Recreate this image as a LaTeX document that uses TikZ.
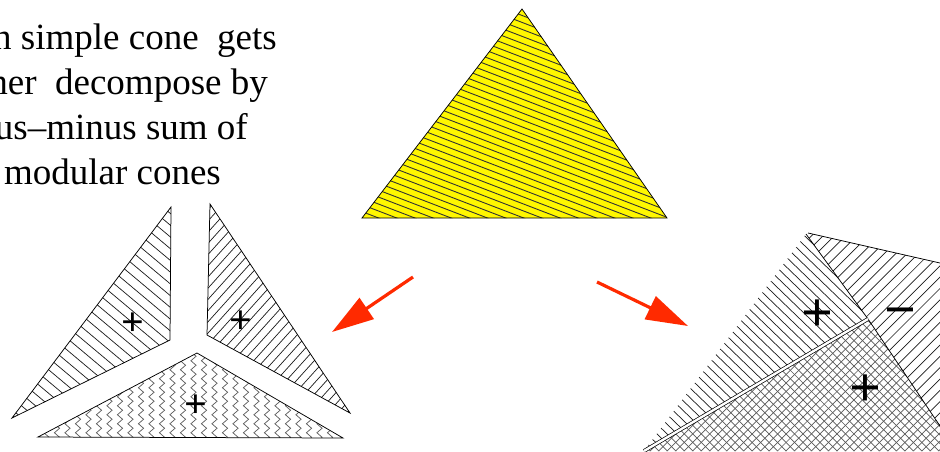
\documentclass[tikz,border=0pt]{standalone}
\usepackage{fontspec}
\setmainfont{Liberation Serif}
\usetikzlibrary{arrows.meta,decorations.pathmorphing}
\definecolor{conered}{HTML}{FF2A00}
\definecolor{coneyellow}{HTML}{FFF700}
\newcommand{\hatchin}[5]{%
  \begin{scope}
    \clip #1;
    \begin{scope}[shift={#2},rotate=#3]
      \draw[#5] \foreach \k in {0,...,130} {(-330,{-330+\k*#4}) -- (330,{-330+\k*#4})};
    \end{scope}
  \end{scope}}
\begin{document}
\begin{tikzpicture}[x=1pt,y=-1pt,
  txt/.style={font=\fontsize{37}{44}\selectfont,inner sep=0pt,anchor=base east},
  edge/.style={line width=0.75pt,black},
  hatchline/.style={line width=0.7pt,black!90},
  yhatch/.style={line width=0.9pt,black!80},
  greyline/.style={line width=0.7pt,black!65},
  zig/.style={greyline,decorate,decoration={zigzag,amplitude=2.6pt,segment length=9pt}},
  sgnsmall/.style={font=\fontsize{40}{40}\selectfont\bfseries,inner sep=0pt,anchor=base},
  sgnbig/.style={font=\fontsize{56}{56}\selectfont\bfseries,inner sep=0pt,anchor=base},
  redarrow/.style={conered,line width=3.2pt,-{Triangle[length=42pt,width=25pt]}}]
\useasboundingbox (0,0) rectangle (940,451);

% ---- text
\node[txt] (t1) at (277,49) {n simple cone~~gets};
\node[txt] (t2) at (268,94) {her~~decompose by};
\node[txt] (t3) at (248,139) {us\char"2013 minus sum of};
\node[txt] (t4) at (221,184) {modular cones};

% ---- top yellow cone
\coordinate (ya) at (522,9);
\coordinate (yb) at (362,218);
\coordinate (yc) at (667,218);
\fill[coneyellow] (ya) -- (yb) -- (yc) -- cycle;
\hatchin{(ya) -- (yb) -- (yc) -- cycle}{(514,150)}{-21}{6.5}{yhatch}
\draw[edge] (ya) -- (yb) -- (yc) -- cycle;

% ---- left group: three cones
\coordinate (a1) at (171,207);
\coordinate (a2) at (170,340);
\coordinate (a3) at (12,418);
\coordinate (b1) at (210,204);
\coordinate (b2) at (207,335);
\coordinate (b3) at (350,413);
\coordinate (c1) at (197,353);
\coordinate (c2) at (38,437);
\coordinate (c3) at (343,438);
\hatchin{(a1) -- (a2) -- (a3) -- cycle}{(120,320)}{-40}{9}{hatchline}
\hatchin{(b1) -- (b2) -- (b3) -- cycle}{(250,320)}{48}{7.5}{hatchline}
\begin{scope}
  \clip (c1) -- (c2) -- (c3) -- cycle;
  \foreach \k in {0,...,30} \draw[zig] ({36+\k*10.5},345) -- ({36+\k*10.5},450);
\end{scope}
\draw[edge] (a1) -- (a2) -- (a3) -- cycle;
\draw[edge] (b1) -- (b2) -- (b3) -- cycle;
\draw[edge] (c1) -- (c2) -- (c3) -- cycle;
\node[sgnsmall] (pa) at (133,335) {+};
\node[sgnsmall] (pb) at (241,333) {+};
\node[sgnsmall] (pc) at (196,417) {+};

% ---- right group: signed decomposition
\coordinate (rt) at (806,234);
\coordinate (rtop) at (808,233);
\coordinate (rtr) at (940,263);
\coordinate (rj) at (868,319);
\coordinate (rd) at (940,426);
\coordinate (rl) at (644,451);
\coordinate (rbr) at (940,451);
\hatchin{(rt) -- (rj) -- (rl) -- cycle}{(780,340)}{-44}{7}{hatchline}
\hatchin{(rtop) -- (rtr) -- (rd) -- (rj) -- (rt) -- cycle}{(890,330)}{45}{8}{hatchline}
\hatchin{(rl) -- (rj) -- (rd) -- (rbr) -- cycle}{(820,400)}{45}{6}{greyline}
\hatchin{(rl) -- (rj) -- (rd) -- (rbr) -- cycle}{(820,400)}{-45}{6}{greyline}
\draw[edge] (rtop) -- (rtr);
\draw[edge] (rt) -- (rj) -- (rd);
\draw[black,line width=0.7pt,double=white,double distance=2.4pt] (rl) -- (rj);
\node[sgnbig] (pr1) at (817,331) {+};
\node[sgnbig] (mr) at (900,328) {\char"2212};
\node[sgnbig] (pr2) at (865,406) {+};

% ---- arrows
\coordinate (la0) at (413,277);
\coordinate (la1) at (332,332);
\coordinate (ra0) at (597,282);
\coordinate (ra1) at (688,326);
\draw[redarrow] (la0) -- (la1);
\draw[redarrow] (ra0) -- (ra1);
\end{tikzpicture}
\end{document}
